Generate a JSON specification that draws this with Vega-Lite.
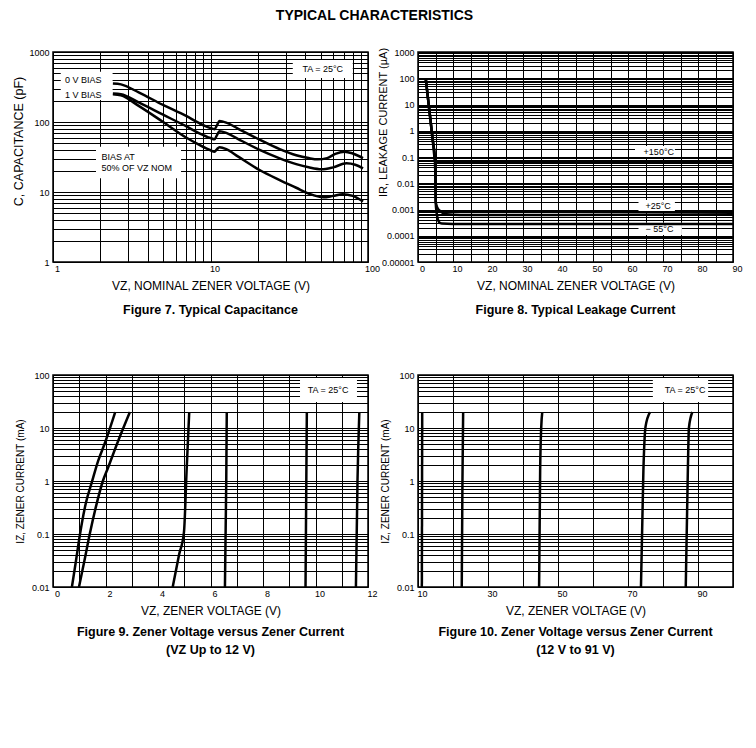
{
  "$schema": "https://vega.github.io/schema/vega-lite/v6.json",
  "background": "white",
  "padding": {"left": 12, "top": 8, "right": 5, "bottom": 5},
  "title": {"text": "TYPICAL CHARACTERISTICS", "fontSize": 14, "fontWeight": "bold", "font": "Liberation Sans", "anchor": "middle", "offset": 24, "color": "black", "dx": -3},
  "columns": 2,
  "spacing": {"row": 113, "column": 50},
  "bounds": "flush",
  "datasets": {
    "p1box": [
      {"x": 1.12, "xe": 2.39, "y": 207, "ye": 524},
      {"x": 1.875, "xe": 6.5, "y": 15.7, "ye": 44.4},
      {"x": 33.3, "xe": 80, "y": 425, "ye": 769}
    ],
    "p1line": [
      {"s": "a", "x": 2.4, "y": 355}, {"s": "a", "x": 2.7, "y": 345}, {"s": "a", "x": 3.5, "y": 265}, {"s": "a", "x": 5, "y": 175}, {"s": "a", "x": 7, "y": 122}, {"s": "a", "x": 8.5, "y": 96}, {"s": "a", "x": 10, "y": 82}, {"s": "a", "x": 10.6, "y": 79}, {"s": "a", "x": 11.0, "y": 90}, {"s": "a", "x": 11.4, "y": 103}, {"s": "a", "x": 12.6, "y": 98}, {"s": "a", "x": 15, "y": 80}, {"s": "a", "x": 20.5, "y": 56}, {"s": "a", "x": 27.5, "y": 41}, {"s": "a", "x": 35, "y": 33.5}, {"s": "a", "x": 42, "y": 30.5}, {"s": "a", "x": 48, "y": 29.3}, {"s": "a", "x": 55, "y": 30.5}, {"s": "a", "x": 62, "y": 35}, {"s": "a", "x": 71, "y": 37.7}, {"s": "a", "x": 80, "y": 35.5}, {"s": "a", "x": 93, "y": 30.5},
      {"s": "b", "x": 2.4, "y": 255}, {"s": "b", "x": 2.7, "y": 250}, {"s": "b", "x": 3.5, "y": 190}, {"s": "b", "x": 5, "y": 127}, {"s": "b", "x": 7, "y": 87}, {"s": "b", "x": 8.5, "y": 69}, {"s": "b", "x": 10, "y": 59}, {"s": "b", "x": 10.6, "y": 56.6}, {"s": "b", "x": 11.0, "y": 65}, {"s": "b", "x": 11.4, "y": 74}, {"s": "b", "x": 12.6, "y": 70}, {"s": "b", "x": 15, "y": 57}, {"s": "b", "x": 20.5, "y": 40}, {"s": "b", "x": 27.5, "y": 30.3}, {"s": "b", "x": 35, "y": 25}, {"s": "b", "x": 42, "y": 22.5}, {"s": "b", "x": 50.6, "y": 21.1}, {"s": "b", "x": 60, "y": 22.5}, {"s": "b", "x": 73, "y": 25.7}, {"s": "b", "x": 83, "y": 24.5}, {"s": "b", "x": 93, "y": 21.8},
      {"s": "c", "x": 2.4, "y": 250}, {"s": "c", "x": 2.7, "y": 240}, {"s": "c", "x": 3.5, "y": 170}, {"s": "c", "x": 5, "y": 100}, {"s": "c", "x": 7, "y": 60}, {"s": "c", "x": 8.5, "y": 47}, {"s": "c", "x": 10, "y": 39.5}, {"s": "c", "x": 10.6, "y": 37.7}, {"s": "c", "x": 11.0, "y": 41}, {"s": "c", "x": 11.4, "y": 43.5}, {"s": "c", "x": 12.6, "y": 41}, {"s": "c", "x": 15, "y": 32}, {"s": "c", "x": 20.5, "y": 20.6}, {"s": "c", "x": 27.5, "y": 14.8}, {"s": "c", "x": 35, "y": 11.5}, {"s": "c", "x": 42, "y": 9.5}, {"s": "c", "x": 52, "y": 8.4}, {"s": "c", "x": 60, "y": 8.8}, {"s": "c", "x": 69, "y": 9.3}, {"s": "c", "x": 80, "y": 8.8}, {"s": "c", "x": 93, "y": 7.3}
    ],
    "p1textL": [
      {"x": 1.19, "y": 398, "t": "0 V BIAS"},
      {"x": 1.19, "y": 243, "t": "1 V BIAS"},
      {"x": 2.03, "y": 31.9, "t": "BIAS AT"},
      {"x": 2.03, "y": 22.2, "t": "50% OF VZ NOM"}
    ],
    "p1textC": [{"x": 51.6, "y": 572, "t": "TA = 25°C"}],
    "p2box": [
      {"x": 62, "xe": 73.4, "y": 0.1, "ye": 0.26},
      {"x": 63, "xe": 73.4, "y": 0.00088, "ye": 0.0023},
      {"x": 63, "xe": 75.4, "y": 0.000107, "ye": 0.00031}
    ],
    "p2line": [
      {"s": "h", "x": 2.2, "y": 100}, {"s": "h", "x": 3.0, "y": 11.5}, {"s": "h", "x": 3.5, "y": 3}, {"s": "h", "x": 4.2, "y": 0.46}, {"s": "h", "x": 4.86, "y": 0.077}, {"s": "h", "x": 5.3, "y": 0.065}, {"s": "h", "x": 6.3, "y": 0.06}, {"s": "h", "x": 40, "y": 0.061}, {"s": "h", "x": 90, "y": 0.063},
      {"s": "m", "x": 2.2, "y": 100}, {"s": "m", "x": 3.0, "y": 11.5}, {"s": "m", "x": 3.5, "y": 3}, {"s": "m", "x": 4.2, "y": 0.46}, {"s": "m", "x": 4.86, "y": 0.077}, {"s": "m", "x": 4.98, "y": 0.01}, {"s": "m", "x": 5.05, "y": 0.002}, {"s": "m", "x": 5.5, "y": 0.0012}, {"s": "m", "x": 6.2, "y": 0.0009}, {"s": "m", "x": 7.2, "y": 0.00072}, {"s": "m", "x": 8.2, "y": 0.00066}, {"s": "m", "x": 12, "y": 0.00062}, {"s": "m", "x": 40, "y": 0.00062}, {"s": "m", "x": 90, "y": 0.00066},
      {"s": "l", "x": 2.2, "y": 100}, {"s": "l", "x": 3.0, "y": 11.5}, {"s": "l", "x": 3.5, "y": 3}, {"s": "l", "x": 4.2, "y": 0.46}, {"s": "l", "x": 4.86, "y": 0.077}, {"s": "l", "x": 4.98, "y": 0.01}, {"s": "l", "x": 5.05, "y": 0.002}, {"s": "l", "x": 5.3, "y": 0.0008}, {"s": "l", "x": 5.6, "y": 0.00046}, {"s": "l", "x": 6.0, "y": 0.00033}, {"s": "l", "x": 6.8, "y": 0.00029}, {"s": "l", "x": 10, "y": 0.00028}, {"s": "l", "x": 90, "y": 0.00028}
    ],
    "p2text": [
      {"x": 68.8, "y": 0.155, "t": "+150°C"},
      {"x": 68.6, "y": 0.00135, "t": "+25°C"},
      {"x": 69, "y": 0.00018, "t": "− 55°C"}
    ],
    "p3box": [{"x": 9.41, "xe": 11.58, "y": 31, "ye": 88}],
    "p3text": [{"x": 10.48, "y": 52, "t": "TA = 25°C"}],
    "p3line": [
      {"s": "A", "x": 0.72, "y": 0.01}, {"s": "A", "x": 0.87, "y": 0.03}, {"s": "A", "x": 1.03, "y": 0.1}, {"s": "A", "x": 1.25, "y": 0.38}, {"s": "A", "x": 1.48, "y": 0.95}, {"s": "A", "x": 1.72, "y": 2.4}, {"s": "A", "x": 1.97, "y": 5.1}, {"s": "A", "x": 2.37, "y": 20},
      {"s": "B", "x": 0.99, "y": 0.01}, {"s": "B", "x": 1.2, "y": 0.032}, {"s": "B", "x": 1.4, "y": 0.1}, {"s": "B", "x": 1.65, "y": 0.35}, {"s": "B", "x": 1.9, "y": 1.0}, {"s": "B", "x": 2.1, "y": 1.8}, {"s": "B", "x": 2.5, "y": 6}, {"s": "B", "x": 2.93, "y": 20},
      {"s": "C", "x": 4.56, "y": 0.01}, {"s": "C", "x": 4.8, "y": 0.04}, {"s": "C", "x": 4.99, "y": 0.11}, {"s": "C", "x": 5.09, "y": 1.6}, {"s": "C", "x": 5.19, "y": 20},
      {"s": "D", "x": 6.55, "y": 0.01}, {"s": "D", "x": 6.6, "y": 1}, {"s": "D", "x": 6.62, "y": 20},
      {"s": "E", "x": 9.62, "y": 0.01}, {"s": "E", "x": 9.65, "y": 1}, {"s": "E", "x": 9.67, "y": 20},
      {"s": "F", "x": 11.54, "y": 0.01}, {"s": "F", "x": 11.6, "y": 1}, {"s": "F", "x": 11.67, "y": 20}
    ],
    "p4box": [{"x": 77.1, "xe": 92.9, "y": 31, "ye": 88}],
    "p4text": [{"x": 86.3, "y": 52, "t": "TA = 25°C"}],
    "p4line": [
      {"s": "G", "x": 11.1, "y": 0.01}, {"s": "G", "x": 11.2, "y": 20},
      {"s": "H", "x": 22.5, "y": 0.01}, {"s": "H", "x": 22.7, "y": 1}, {"s": "H", "x": 22.9, "y": 20},
      {"s": "I", "x": 44.6, "y": 0.01}, {"s": "I", "x": 44.9, "y": 1.6}, {"s": "I", "x": 45.2, "y": 10}, {"s": "I", "x": 45.5, "y": 20},
      {"s": "J", "x": 73.7, "y": 0.01}, {"s": "J", "x": 74.4, "y": 1.6}, {"s": "J", "x": 75.0, "y": 10.5}, {"s": "J", "x": 76.3, "y": 20},
      {"s": "K", "x": 86.5, "y": 0.01}, {"s": "K", "x": 87.1, "y": 1.6}, {"s": "K", "x": 87.4, "y": 10}, {"s": "K", "x": 88.4, "y": 20}
    ]
  },
  "concat": [
    {
      "width": 315, "height": 210,
      "title": {"text": "Figure 7. Typical Capacitance", "orient": "bottom", "offset": 13},
      "encoding": {
        "x": {"field": "x", "type": "quantitative", "scale": {"type": "log", "domain": [1, 100], "nice": false},
          "axis": {"title": "VZ, NOMINAL ZENER VOLTAGE (V)", "values": [1,2,3,4,5,6,7,8,9,10,20,30,40,50,60,70,80,90,100],
            "labelExpr": "abs(log(datum.value)/LN10 - round(log(datum.value)/LN10)) < 0.01 ? format(datum.value, '~f') : ''"}},
        "y": {"field": "y", "type": "quantitative", "scale": {"type": "log", "domain": [1, 1000], "nice": false},
          "axis": {"title": "C, CAPACITANCE (pF)", "titlePadding": 3, "titleY": 89, "titleFontSize": 12.5,
            "values": [1,2,3,4,5,6,7,8,9,10,20,30,40,50,60,70,80,90,100,200,300,400,500,600,700,800,900,1000],
            "labelExpr": "abs(log(datum.value)/LN10 - round(log(datum.value)/LN10)) < 0.01 ? format(datum.value, '~f') : ''"}}
      },
      "layer": [
        {"data": {"name": "p1box"}, "mark": {"type": "rect", "fill": "white"}, "encoding": {"x2": {"field": "xe"}, "y2": {"field": "ye"}}},
        {"data": {"name": "p1line"}, "mark": {"type": "line", "color": "black", "strokeWidth": 2.5, "interpolate": "monotone"}, "encoding": {"detail": {"field": "s"}}},
        {"data": {"name": "p1textL"}, "mark": {"type": "text", "align": "left", "fontSize": 9, "color": "black"}, "encoding": {"text": {"field": "t"}}},
        {"data": {"name": "p1textC"}, "mark": {"type": "text", "align": "center", "fontSize": 9, "color": "black"}, "encoding": {"text": {"field": "t"}}}
      ]
    },
    {
      "width": 315, "height": 210,
      "title": {"text": "Figure 8. Typical Leakage Current", "orient": "bottom", "offset": 13},
      "encoding": {
        "x": {"field": "x", "type": "quantitative", "scale": {"domain": [0, 90], "nice": false, "zero": false},
          "axis": {"title": "VZ, NOMINAL ZENER VOLTAGE (V)", "values": [0,5,10,15,20,25,30,35,40,45,50,55,60,65,70,75,80,85,90],
            "labelExpr": "datum.value % 10 == 0 ? datum.label : ''"}},
        "y": {"field": "y", "type": "quantitative", "scale": {"type": "log", "domain": [0.00001, 1000], "nice": false},
          "axis": {"title": "IR, LEAKAGE CURRENT (µA)", "titlePadding": -7, "titleY": 70, "titleFontSize": 11,
            "values": [0.00001,0.00002,0.00003,0.00004,0.00005,0.00006,0.00007,0.00008,0.00009,0.0001,0.0002,0.0003,0.0004,0.0005,0.0006,0.0007,0.0008,0.0009,0.001,0.002,0.003,0.004,0.005,0.006,0.007,0.008,0.009,0.01,0.02,0.03,0.04,0.05,0.06,0.07,0.08,0.09,0.1,0.2,0.3,0.4,0.5,0.6,0.7,0.8,0.9,1,2,3,4,5,6,7,8,9,10,20,30,40,50,60,70,80,90,100,200,300,400,500,600,700,800,900,1000],
            "labelExpr": "abs(log(datum.value)/LN10 - round(log(datum.value)/LN10)) < 0.01 ? format(datum.value, '~f') : ''"}}
      },
      "layer": [
        {"data": {"name": "p2box"}, "mark": {"type": "rect", "fill": "white"}, "encoding": {"x2": {"field": "xe"}, "y2": {"field": "ye"}}},
        {"data": {"name": "p2line"}, "mark": {"type": "line", "color": "black", "strokeWidth": 2.5, "interpolate": "monotone"}, "encoding": {"detail": {"field": "s"}}},
        {"data": {"name": "p2text"}, "mark": {"type": "text", "align": "center", "fontSize": 9, "color": "black"}, "encoding": {"text": {"field": "t"}}}
      ]
    },
    {
      "width": 315, "height": 212,
      "title": {"text": ["Figure 9. Zener Voltage versus Zener Current", "(VZ Up to 12 V)"], "orient": "bottom", "offset": 10, "lineHeight": 18},
      "encoding": {
        "x": {"field": "x", "type": "quantitative", "scale": {"domain": [0, 12], "nice": false, "zero": false},
          "axis": {"title": "VZ, ZENER VOLTAGE (V)", "values": [0,1,2,3,4,5,6,7,8,9,10,11,12],
            "labelExpr": "datum.value % 2 == 0 ? datum.label : ''"}},
        "y": {"field": "y", "type": "quantitative", "scale": {"type": "log", "domain": [0.01, 100], "nice": false},
          "axis": {"title": "IZ, ZENER CURRENT (mA)", "titlePadding": 6, "titleFontSize": 10,
            "values": [0.01,0.02,0.03,0.04,0.05,0.06,0.07,0.08,0.09,0.1,0.2,0.3,0.4,0.5,0.6,0.7,0.8,0.9,1,2,3,4,5,6,7,8,9,10,20,30,40,50,60,70,80,90,100],
            "labelExpr": "abs(log(datum.value)/LN10 - round(log(datum.value)/LN10)) < 0.01 ? format(datum.value, '~f') : ''"}}
      },
      "layer": [
        {"data": {"name": "p3box"}, "mark": {"type": "rect", "fill": "white"}, "encoding": {"x2": {"field": "xe"}, "y2": {"field": "ye"}}},
        {"data": {"name": "p3line"}, "mark": {"type": "line", "color": "black", "strokeWidth": 2.5, "interpolate": "monotone"}, "encoding": {"detail": {"field": "s"}}},
        {"data": {"name": "p3text"}, "mark": {"type": "text", "align": "center", "fontSize": 9, "color": "black"}, "encoding": {"text": {"field": "t"}}}
      ]
    },
    {
      "width": 315, "height": 212,
      "title": {"text": ["Figure 10. Zener Voltage versus Zener Current", "(12 V to 91 V)"], "orient": "bottom", "offset": 10, "lineHeight": 18},
      "encoding": {
        "x": {"field": "x", "type": "quantitative", "scale": {"domain": [10, 100], "nice": false, "zero": false},
          "axis": {"title": "VZ, ZENER VOLTAGE (V)", "values": [10,20,30,40,50,60,70,80,90,100],
            "labelExpr": "datum.value % 20 == 10 ? datum.label : ''"}},
        "y": {"field": "y", "type": "quantitative", "scale": {"type": "log", "domain": [0.01, 100], "nice": false},
          "axis": {"title": "IZ, ZENER CURRENT (mA)", "titlePadding": 6, "titleFontSize": 10,
            "values": [0.01,0.02,0.03,0.04,0.05,0.06,0.07,0.08,0.09,0.1,0.2,0.3,0.4,0.5,0.6,0.7,0.8,0.9,1,2,3,4,5,6,7,8,9,10,20,30,40,50,60,70,80,90,100],
            "labelExpr": "abs(log(datum.value)/LN10 - round(log(datum.value)/LN10)) < 0.01 ? format(datum.value, '~f') : ''"}}
      },
      "layer": [
        {"data": {"name": "p4box"}, "mark": {"type": "rect", "fill": "white"}, "encoding": {"x2": {"field": "xe"}, "y2": {"field": "ye"}}},
        {"data": {"name": "p4line"}, "mark": {"type": "line", "color": "black", "strokeWidth": 2.5, "interpolate": "monotone"}, "encoding": {"detail": {"field": "s"}}},
        {"data": {"name": "p4text"}, "mark": {"type": "text", "align": "center", "fontSize": 9, "color": "black"}, "encoding": {"text": {"field": "t"}}}
      ]
    }
  ],
  "config": {
    "font": "Liberation Sans",
    "view": {"stroke": "black", "strokeWidth": 1.5},
    "axis": {"grid": true, "gridColor": "black", "gridOpacity": 1, "gridWidth": 1, "domain": false, "ticks": false,
      "labelFontSize": 9, "labelColor": "black", "labelFont": "Liberation Sans", "titleFont": "Liberation Sans",
      "titleFontSize": 11, "titleFontWeight": "normal", "titleColor": "black", "labelOverlap": false, "labelFlush": false, "labelBound": false},
    "axisX": {"labelPadding": 2, "titlePadding": 7, "labelOffset": 4, "titleFontSize": 12},
    "axisY": {"labelPadding": 4},
    "title": {"font": "Liberation Sans", "fontSize": 12.5, "fontWeight": "bold", "color": "black"}
  }
}
